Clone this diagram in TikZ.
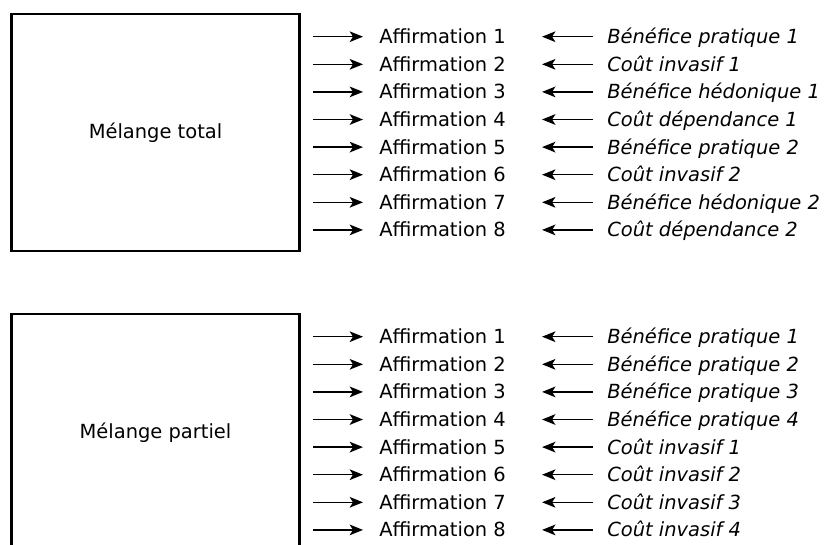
\documentclass[tikz,border=0pt]{standalone}
\usepackage{fontspec}
\setmainfont{DejaVu Sans}
\usetikzlibrary{arrows.meta,positioning}

\begin{document}
\begin{tikzpicture}[x=0.75pt,y=-0.75pt,
  panel/.style={draw, line width=2.2pt, minimum width=215.5pt, minimum height=177.75pt, inner sep=0pt},
  item/.style={anchor=west, inner ysep=0pt, inner xsep=12pt, text height=13pt, text depth=2.4pt},
  link/.style={line width=1.1pt, -{Stealth[length=10pt,width=8pt,inset=2.5pt]}}]
\useasboundingbox (0,0) rectangle (825,544);
\clip (0,0) rectangle (825,544);
\fontsize{14.6}{17}\selectfont

\node[panel] (total) at (155.5,132.5) {Mélange total};
\node[panel] (partiel) at (155.5,432.5) {Mélange partiel};

% upper panel
\foreach \i/\t in {1/Bénéfice pratique 1,2/Coût invasif 1,3/Bénéfice hédonique 1,4/Coût dépendance 1,
  5/Bénéfice pratique 2,6/Coût invasif 2,7/Bénéfice hédonique 2,8/Coût dépendance 2}{
  \node[item] (ta\i) at (363,{36.7+(\i-1)*27.6}) {Affirmation \i};
  \node[item,font=\itshape,inner xsep=10.5pt] (tb\i) at (593,{36.7+(\i-1)*27.6}) {\t};
  \draw[link, shorten <=9.5pt] (total.east |- ta\i.west) -- (ta\i.west);
  \draw[link, shorten >=15pt] (tb\i.west) -- (ta\i.east);
}

% lower panel
\foreach \i/\t in {1/Bénéfice pratique 1,2/Bénéfice pratique 2,3/Bénéfice pratique 3,4/Bénéfice pratique 4,
  5/Coût invasif 1,6/Coût invasif 2,7/Coût invasif 3,8/Coût invasif 4}{
  \node[item] (pa\i) at (363,{336.7+(\i-1)*27.6}) {Affirmation \i};
  \node[item,font=\itshape,inner xsep=10.5pt] (pb\i) at (593,{336.7+(\i-1)*27.6}) {\t};
  \draw[link, shorten <=9.5pt] (partiel.east |- pa\i.west) -- (pa\i.west);
  \draw[link, shorten >=15pt] (pb\i.west) -- (pa\i.east);
}
\end{tikzpicture}
\end{document}
